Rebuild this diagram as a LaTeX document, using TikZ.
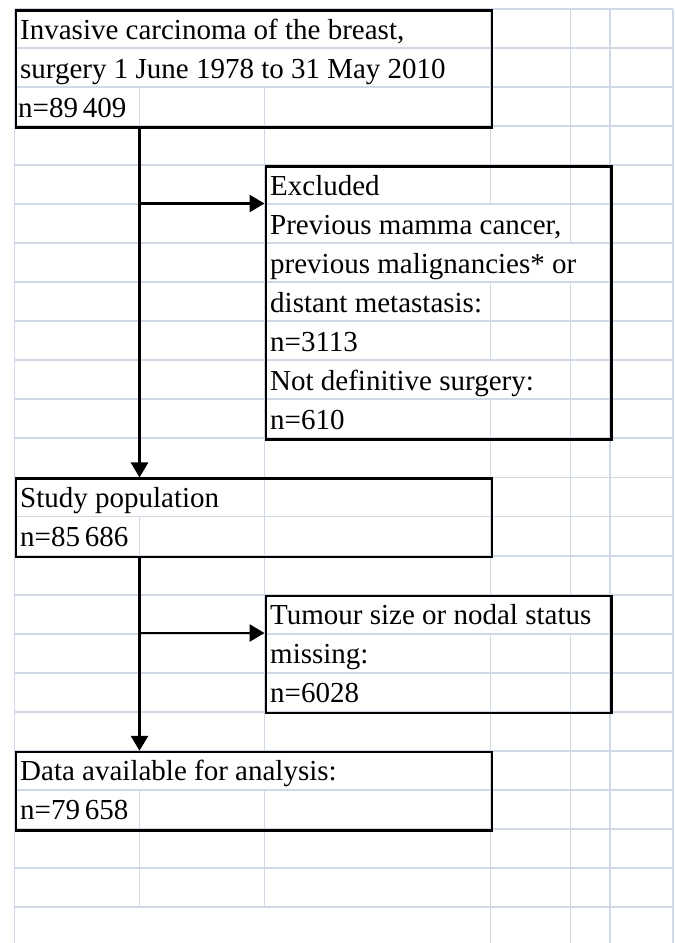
\documentclass[tikz,border=0pt]{standalone}
\usepackage{fontspec}
\setmainfont{Liberation Serif}
\usetikzlibrary{arrows.meta}
\definecolor{gridc}{HTML}{D0D7E5}
\begin{document}
\begin{tikzpicture}[x=1pt,y=-1pt,
  gridline/.style={draw=gridc, line width=1.9pt},
  box/.style={draw=black, line width=2.7pt, inner sep=0pt, anchor=north west},
  txt/.style={anchor=base west, inner sep=0pt, font=\fontsize{29}{30}\selectfont},
  arr/.style={draw=black, line width=2.8pt, -{Triangle[length=15pt,width=17pt]}}
]
\useasboundingbox (0,0) rectangle (675,943);
\begin{scope}
\clip (0,0) rectangle (675,943);
% horizontal grid lines
\foreach \k in {0,...,23} \draw[gridline] (14.5,{9+39.04*\k}) -- (673,{9+39.04*\k});
% outer vertical grid lines
\draw[gridline] (14.5,9) -- (14.5,943);
\draw[gridline] (673,9) -- (673,943);
% inner vertical grid lines, per row
\foreach \k/\xs in {
  0/{490.5,570.5,610}, 1/{490.5,570.5,610},
  2/{139.5,264.5,490.5,570.5,610}, 3/{139.5,264.5,490.5,570.5,610},
  4/{139.5,264.5,490.5,570.5,610}, 5/{139.5,264.5,570.5,610},
  6/{139.5,264.5,610}, 7/{139.5,264.5,490.5,570.5,610},
  8/{139.5,264.5,490.5,570.5,610}, 9/{139.5,264.5,570.5,610},
  10/{139.5,264.5,490.5,570.5,610}, 11/{139.5,264.5,490.5,570.5,610},
  12/{264.5,490.5,570.5,610}, 13/{139.5,264.5,490.5,570.5,610},
  14/{139.5,264.5,490.5,570.5,610}, 15/{139.5,264.5,610},
  16/{139.5,264.5,490.5,570.5,610}, 17/{139.5,264.5,490.5,570.5,610},
  18/{139.5,264.5,490.5,570.5,610}, 19/{490.5,570.5,610},
  20/{139.5,264.5,490.5,570.5,610}, 21/{139.5,264.5,490.5,570.5,610},
  22/{139.5,264.5,490.5,570.5,610}, 23/{490.5,570.5,610}}
  {\foreach \x in \xs {\draw[gridline] (\x,{9+39.04*\k}) -- (\x,{9+39.04*(\k+1)});}}
\end{scope}

% boxes
\node[box, minimum width=476pt, minimum height=117.12pt] (b1) at (14.5,9) {};
\node[box, minimum width=345.5pt, minimum height=273.28pt] (excl) at (264.5,165.16) {};
\node[box, minimum width=476pt, minimum height=78.08pt] (study) at (14.5,477.48) {};
\node[box, minimum width=345.5pt, minimum height=117.12pt] (tumour) at (264.5,594.6) {};
\node[box, minimum width=476pt, minimum height=78.08pt] (data) at (14.5,750.76) {};

% texts
\node[txt] (t1a) at (20,{39.04*1}) {Invasive carcinoma of the breast,};
\node[txt] (t1b) at (20,{39.04*2}) {surgery 1 June 1978 to 31 May 2010};
\node[txt] (t1c) at (18,{39.04*3}) {n=89\,409};
\node[txt] (t2a) at (270,{39.04*5}) {Excluded};
\node[txt] (t2b) at (270,{39.04*6}) {Previous mamma cancer,};
\node[txt] (t2c) at (270,{39.04*7}) {previous malignancies* or};
\node[txt] (t2d) at (270,{39.04*8}) {distant metastasis:};
\node[txt] (t2e) at (270,{39.04*9}) {n=3113};
\node[txt] (t2f) at (270,{39.04*10}) {Not definitive surgery:};
\node[txt] (t2g) at (270,{39.04*11}) {n=610};
\node[txt] (t3a) at (20,{39.04*13}) {Study population};
\node[txt] (t3b) at (20,{39.04*14}) {n=85\,686};
\node[txt] (t4a) at (270,{39.04*16}) {Tumour size or nodal status};
\node[txt] (t4b) at (270,{39.04*17}) {missing:};
\node[txt] (t4c) at (270,{39.04*18}) {n=6028};
\node[txt] (t5a) at (20,{39.04*20}) {Data available for analysis:};
\node[txt] (t5b) at (20,{39.04*21}) {n=79\,658};

% connectors
\coordinate (colB) at (139.5,0);
\coordinate (j1) at (139.5,203.5);
\coordinate (j2) at (139.5,633);
\draw[arr] (b1.south -| colB) -- (study.north -| colB);
\draw[arr] (j1) -- (j1 -| excl.west);
\draw[arr] (study.south -| colB) -- (data.north -| colB);
\draw[arr] (j2) -- (j2 -| tumour.west);
\end{tikzpicture}
\end{document}
